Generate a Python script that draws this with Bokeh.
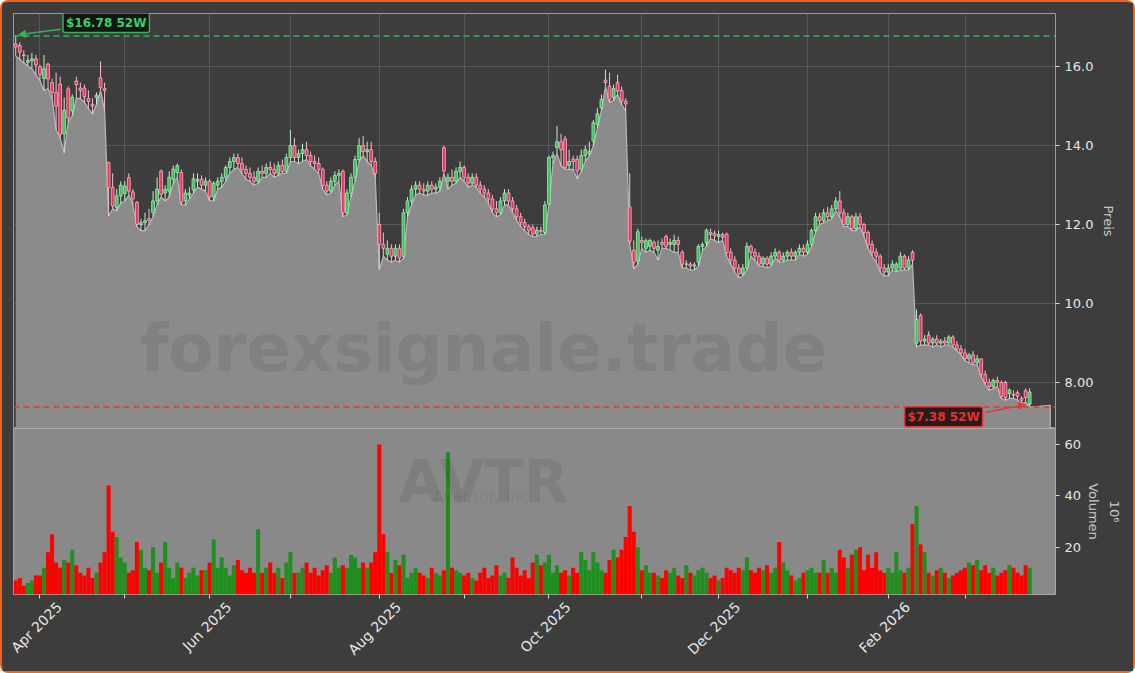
import math
from bokeh.plotting import figure
from bokeh.models import (Range1d, FixedTicker, Span, Label, Arrow, NormalHead,
                          ColumnDataSource, LinearAxis)
from bokeh.layouts import column
from bokeh.embed import file_html
from bokeh.resources import INLINE

# ---------------- data ----------------
opens = [16.58,16.54,16.30,16.11,16.15,16.20,16.00,15.70,16.07,15.60,
         15.35,15.56,14.30,15.44,14.88,15.64,15.46,15.46,15.20,15.05,
         15.22,15.72,15.45,13.57,12.94,12.43,12.73,12.79,13.19,12.83,
         12.56,12.00,12.05,12.15,12.30,12.60,13.36,12.80,12.85,13.15,
         13.32,13.32,12.60,12.75,12.88,13.10,13.15,13.00,13.10,12.70,
         13.00,13.10,13.20,13.45,13.60,13.70,13.55,13.40,13.30,13.20,
         13.10,13.35,13.30,13.45,13.40,13.30,13.50,13.35,13.70,14.00,
         13.70,13.80,13.90,13.75,13.60,13.55,13.40,13.00,12.85,13.10,
         13.25,13.35,12.30,12.80,13.20,13.65,14.00,13.85,13.90,13.60,
         12.00,11.50,11.25,11.40,11.20,11.40,11.20,12.30,12.60,12.90,
         13.00,12.90,12.85,13.00,12.90,12.95,13.95,13.10,13.20,13.10,
         13.35,13.45,13.20,13.05,13.20,13.00,12.90,12.80,12.65,12.40,
         12.30,12.60,12.80,12.60,12.40,12.20,12.05,11.95,11.92,11.76,
         11.85,11.80,12.52,13.70,13.95,14.10,14.17,13.50,13.66,13.66,
         13.40,13.75,13.80,14.12,14.54,14.96,15.66,15.51,15.22,15.60,
         15.40,15.13,12.45,11.35,11.08,11.60,11.40,11.45,11.55,11.35,
         11.55,11.70,11.50,11.50,11.60,11.30,11.00,11.00,10.95,11.05,
         11.45,11.54,11.80,11.78,11.70,11.75,11.76,11.30,11.10,10.90,
         10.75,10.90,11.45,11.30,11.20,11.00,11.15,11.00,11.20,11.30,
         11.10,11.20,11.30,11.20,11.30,11.40,11.30,11.50,11.85,12.20,
         12.10,12.30,12.20,12.40,12.60,12.30,12.00,12.20,11.90,12.20,
         12.00,11.80,11.50,11.30,11.20,10.90,10.80,10.90,10.85,10.90,
         11.20,10.90,11.30,9.00,9.70,9.05,9.20,9.00,9.10,9.00,
         9.05,9.00,9.15,8.95,8.85,8.75,8.60,8.70,8.50,8.60,
         8.20,8.00,7.90,8.05,8.00,8.00,7.72,7.70,7.74,7.60,
         7.79,7.45]
highs = [16.80,16.62,16.42,16.30,16.35,16.30,16.05,16.30,16.10,15.70,
         15.85,15.75,15.22,15.50,15.30,15.75,15.60,15.55,15.40,15.20,
         15.35,16.14,15.60,13.60,13.30,12.90,13.10,13.10,13.30,12.90,
         12.60,12.15,12.30,12.40,12.85,13.20,13.40,13.00,13.35,13.50,
         13.55,13.40,12.90,12.95,13.30,13.30,13.25,13.20,13.15,13.10,
         13.20,13.30,13.50,13.70,13.80,13.80,13.70,13.50,13.45,13.35,
         13.45,13.50,13.55,13.60,13.55,13.60,13.65,13.80,14.40,14.20,
         13.90,14.05,14.10,13.85,13.75,13.70,13.45,13.10,13.20,13.35,
         13.40,13.40,12.90,13.30,13.75,14.20,14.25,14.10,14.10,13.70,
         12.30,11.80,11.60,11.50,11.50,11.50,12.40,12.70,13.00,13.10,
         13.10,13.05,13.10,13.10,13.05,13.20,14.00,13.30,13.40,13.45,
         13.60,13.50,13.30,13.30,13.30,13.10,13.00,12.90,12.75,12.60,
         12.70,12.90,12.90,12.70,12.50,12.30,12.15,12.00,12.00,11.95,
         11.95,12.60,13.75,13.85,14.50,14.30,14.25,13.90,13.75,13.75,
         13.90,14.00,14.10,14.65,14.95,15.30,15.93,15.85,15.55,15.80,
         15.50,15.20,13.30,11.60,11.90,11.70,11.65,11.65,11.60,11.60,
         11.65,11.75,11.65,11.75,11.70,11.35,11.10,11.05,11.05,11.50,
         11.55,11.90,11.90,11.85,11.85,11.80,11.80,11.40,11.20,11.00,
         11.00,11.55,11.50,11.40,11.30,11.20,11.20,11.30,11.40,11.35,
         11.30,11.35,11.40,11.35,11.50,11.50,11.60,11.90,12.30,12.30,
         12.40,12.45,12.50,12.70,12.85,12.40,12.30,12.25,12.30,12.30,
         12.05,11.85,11.60,11.40,11.25,11.00,11.00,11.10,11.05,11.30,
         11.25,11.20,11.35,9.85,9.75,9.20,9.30,9.15,9.20,9.10,
         9.15,9.20,9.20,9.05,8.95,8.85,8.75,8.80,8.70,8.60,
         8.30,8.10,8.10,8.15,8.05,8.05,7.85,7.80,7.80,7.65,
         7.85,7.85]
lows = [16.27,16.19,16.10,16.02,15.95,15.80,15.65,15.40,15.45,15.20,
        14.40,14.20,13.82,14.60,14.75,15.20,15.20,15.10,14.95,14.80,
        15.05,15.40,14.90,12.22,12.40,12.35,12.55,12.60,12.75,12.50,
        11.95,11.85,11.85,12.00,12.20,12.50,12.70,12.60,12.70,13.05,
        13.20,12.50,12.50,12.65,12.80,12.95,12.90,12.85,12.60,12.60,
        12.90,12.95,13.10,13.30,13.40,13.45,13.30,13.15,13.10,13.00,
        13.05,13.20,13.20,13.30,13.20,13.25,13.30,13.30,13.60,13.60,
        13.55,13.60,13.65,13.50,13.40,13.30,12.90,12.75,12.80,13.00,
        13.10,12.20,12.25,12.70,13.10,13.60,13.75,13.60,13.50,13.20,
        10.85,11.20,11.10,11.05,11.10,11.05,11.15,12.20,12.50,12.75,
        12.80,12.75,12.75,12.80,12.80,12.85,13.30,12.90,13.00,13.05,
        13.20,13.10,12.95,13.00,12.95,12.80,12.70,12.55,12.30,12.20,
        12.25,12.50,12.50,12.30,12.10,11.95,11.85,11.75,11.70,11.70,
        11.75,11.75,12.50,13.55,13.80,13.50,13.40,13.40,13.40,13.16,
        13.35,13.60,13.75,14.00,14.45,14.90,15.50,15.10,15.15,15.30,
        15.05,14.88,11.50,10.88,11.00,11.40,11.30,11.35,11.30,11.10,
        11.40,11.40,11.35,11.30,11.30,10.90,10.90,10.85,10.85,10.95,
        11.35,11.45,11.65,11.60,11.55,11.60,11.20,11.00,10.80,10.65,
        10.70,10.85,11.20,11.10,10.95,10.95,10.90,10.95,11.15,11.05,
        11.05,11.10,11.10,11.10,11.25,11.20,11.25,11.45,11.80,12.00,
        12.05,12.10,12.15,12.35,12.20,11.95,11.95,11.85,11.85,11.95,
        11.70,11.40,11.20,11.05,10.80,10.70,10.70,10.85,10.80,10.85,
        10.85,10.85,11.00,8.90,8.95,8.95,8.95,8.90,8.95,8.90,
        8.95,8.95,8.90,8.80,8.70,8.55,8.50,8.45,8.45,8.15,
        7.95,7.80,7.85,7.90,7.60,7.55,7.60,7.60,7.55,7.47,
        7.50,7.38]
closes = [16.50,16.37,16.28,16.16,16.20,16.05,15.80,15.95,15.69,15.35,
          15.00,14.29,14.90,14.70,15.23,15.55,15.40,15.24,15.12,15.00,
          15.28,15.47,15.40,12.94,12.47,12.73,13.00,12.98,12.85,12.65,
          12.01,12.05,12.10,12.10,12.60,12.90,12.77,12.90,13.20,13.41,
          13.49,12.56,12.80,12.80,13.16,13.15,13.00,13.10,12.70,13.05,
          13.10,13.20,13.45,13.60,13.70,13.55,13.40,13.30,13.20,13.10,
          13.35,13.30,13.45,13.40,13.30,13.50,13.35,13.70,14.00,13.70,
          13.80,13.90,13.75,13.60,13.55,13.40,13.00,12.85,13.10,13.25,
          13.30,12.30,12.80,13.20,13.65,14.00,13.85,13.90,13.60,13.30,
          11.50,11.40,11.40,11.20,11.40,11.15,12.30,12.60,12.90,13.00,
          12.90,12.85,13.00,12.90,12.95,13.10,13.36,13.20,13.10,13.35,
          13.45,13.20,13.05,13.20,13.00,12.90,12.80,12.65,12.40,12.30,
          12.60,12.80,12.60,12.40,12.20,12.05,11.95,11.85,11.76,11.86,
          11.83,12.50,13.70,13.75,14.10,13.90,13.44,13.60,13.60,13.36,
          13.75,13.90,13.85,14.58,14.81,15.17,15.60,15.17,15.45,15.38,
          15.13,15.06,11.58,11.04,11.82,11.55,11.59,11.60,11.40,11.45,
          11.50,11.45,11.55,11.60,11.50,11.00,11.00,10.95,10.98,11.45,
          11.50,11.86,11.75,11.72,11.75,11.68,11.29,11.10,10.90,10.75,
          10.90,11.45,11.30,11.20,11.00,11.15,11.00,11.20,11.30,11.10,
          11.20,11.30,11.20,11.30,11.40,11.30,11.50,11.85,12.20,12.10,
          12.30,12.20,12.40,12.60,12.30,12.00,12.20,11.90,12.20,12.00,
          11.80,11.50,11.30,11.20,10.90,10.80,10.90,11.00,11.00,11.20,
          10.90,11.10,11.10,9.60,9.05,9.10,9.00,9.10,9.00,9.05,
          9.00,9.15,8.95,8.85,8.75,8.60,8.70,8.50,8.60,8.20,
          8.00,7.90,8.05,8.00,7.65,7.62,7.81,7.68,7.65,7.55,
          7.62,7.76]
volumes = [7,8,5,6,7,9,9,12,18,25,
           14,12,15,14,19,13,10,9,12,8,
           10,14,18,44,26,24,16,14,10,11,
           22,19,12,11,20,10,14,22,12,8,
           14,12,8,10,12,9,11,11,14,23,
           12,16,12,9,13,15,11,10,12,10,
           27,10,12,14,10,12,8,14,18,10,
           10,12,14,10,12,9,11,13,10,16,
           12,13,12,17,16,12,14,12,14,18,
           60,25,18,10,15,13,17,8,10,12,
           10,9,8,12,10,9,11,57,12,11,
           10,9,10,8,7,10,12,8,9,13,
           9,10,8,16,12,9,11,8,14,17,
           13,14,17,10,13,10,11,9,12,10,
           18,15,11,18,14,11,10,15,19,16,
           19,24,36,26,20,11,13,10,10,9,
           8,11,10,12,9,8,13,10,9,11,
           12,10,8,9,7,8,12,11,10,12,
           11,16,11,10,12,11,13,10,12,22,
           14,11,9,7,8,10,11,12,10,10,
           15,10,12,10,19,16,12,17,19,20,
           11,17,12,18,11,10,12,10,18,11,
           10,12,29,36,21,18,10,9,11,12,
           10,8,9,10,11,12,14,13,15,11,
           13,10,12,9,10,11,13,12,10,9,
           13,12]

month_ticks = [6, 27, 48, 68, 90, 111, 132, 155, 174, 196, 216, 235]
month_labels = ["Apr 2025", "", "Jun 2025", "", "Aug 2025", "", "Oct 2025", "",
                "Dec 2025", "", "Feb 2026", ""]
price_ticks = [8, 10, 12, 14, 16]
price_tick_labels = ["8.00", "10.0", "12.0", "14.0", "16.0"]
vol_ticks = [20, 40, 60]
high_52w = 16.78
low_52w = 7.38
ticker_symbol = "AVTR"
company = "Avantor, Inc."
watermark = "forexsignale.trade"

# ---------------- derived ----------------
n = len(closes)
idx = list(range(n))
up = [c >= o for o, c in zip(opens, closes)]
BG = "#3d3d3d"
FONT = "DejaVu Sans"
TXT = "#e6e6e6"

src = ColumnDataSource(dict(
    x=idx, o=opens, h=highs, l=lows, c=closes, v=volumes,
    top=[max(o, c) for o, c in zip(opens, closes)],
    bot=[min(o, c) for o, c in zip(opens, closes)],
    fill=["#3fbf5a" if u else "#e8335f" for u in up],
    edge=["#a6f0b4" if u else "#ffb3c4" for u in up],
    wick=["#c6ead0" if u else "#f3c2cf" for u in up],
    vcol=["#1f8f1f" if u else "#ff0000" for u in up],
))

x_range = Range1d(-0.55, 257.4)

p1 = figure(width=1131, height=426, x_range=x_range, y_range=Range1d(6.835, 17.35),
            y_axis_location="right", x_axis_location=None,
            output_backend="svg", toolbar_location=None,
            min_border_left=11, min_border_right=78, min_border_top=11, min_border_bottom=0,
            background_fill_color=BG, border_fill_color=BG,
            outline_line_color="#9c9c9c", outline_line_width=1)
for g in p1.xgrid:
    g.ticker = FixedTicker(ticks=month_ticks)
    g.grid_line_color = "#585858"
    g.level = "underlay"
p1.ygrid.grid_line_color = "#585858"
p1.yaxis.ticker = FixedTicker(ticks=price_ticks)
p1.yaxis.major_label_overrides = {t: s for t, s in zip(price_ticks, price_tick_labels)}
p1.yaxis.axis_label = "Preis"

# area under the lows
xa = idx + [256.1]
ya = lows + [7.42]
p1.varea(x=xa, y1=ya, y2=0, fill_color="#8b8b8b")
p1.line(x=xa + [256.1], y=ya + [0], line_color="#b8b8b8", line_width=1.2)

# candles
p1.segment(x0="x", y0="l", x1="x", y1="h", line_color="wick", line_width=1, source=src)
p1.vbar(x="x", width=0.7, top="top", bottom="bot", fill_color="fill",
        line_color="edge", line_width=0.8, source=src)

p1.add_layout(Label(x=115.8, y=8.853, text=watermark, text_font=FONT, text_font_size="66px",
                    text_font_style="bold", text_color="black", text_alpha=0.08,
                    text_align="center", text_baseline="alphabetic"))

GREEN = "#33b25c"
RED = "#e03a3a"
p1.add_layout(Span(location=high_52w, dimension="width", line_color=GREEN,
                   line_dash="6 4", line_width=1.5))
p1.add_layout(Span(location=low_52w, dimension="width", line_color=RED,
                   line_dash="6 4", line_width=1.5))
p1.add_layout(Arrow(end=NormalHead(size=7, fill_color=GREEN, line_color=GREEN),
                    x_start=11.1, y_start=16.95, x_end=0.7, y_end=16.81,
                    line_color=GREEN, line_width=1.5))
p1.add_layout(Arrow(end=NormalHead(size=7, fill_color=RED, line_color=RED),
                    x_start=240.0, y_start=7.24, x_end=250.0, y_end=7.44,
                    line_color=RED, line_width=1.5))
p1.add_layout(Label(x=22.4, y=17.12, text="$%.2f 52W" % high_52w, text_font=FONT,
                    text_font_size="12px", text_font_style="bold", text_color="#3ad06a",
                    text_align="center", text_baseline="middle",
                    background_fill_color="#0c120d", background_fill_alpha=0.9,
                    border_line_color=GREEN, border_line_width=1.5, padding=3, border_radius=2))
p1.add_layout(Label(x=229.7, y=7.13, text="$%.2f 52W" % low_52w, text_font=FONT,
                    text_font_size="12px", text_font_style="bold", text_color="#e8302a",
                    text_align="center", text_baseline="middle",
                    background_fill_color="#1c1010", background_fill_alpha=0.9,
                    border_line_color=RED, border_line_width=1.5, padding=3, border_radius=2))

# ---------------- volume panel ----------------
p2 = figure(width=1131, height=243, x_range=x_range, y_range=Range1d(1.57, 66.2),
            y_axis_location="right", output_backend="svg", toolbar_location=None,
            min_border_left=11, min_border_right=78, min_border_top=0, min_border_bottom=77,
            background_fill_color="#898989", border_fill_color=BG,
            outline_line_color="#a8a8a8", outline_line_width=1)
p2.xgrid.grid_line_color = None
p2.ygrid.grid_line_color = None
p2.vbar(x="x", width=1.0, top="v", bottom=0, fill_color="vcol", line_color=None, source=src)
p2.yaxis.ticker = FixedTicker(ticks=vol_ticks)
p2.yaxis.axis_label = "Volumen"

p2.add_layout(Label(x=115.8, y=45.3, text=ticker_symbol, text_font=FONT, text_font_size="58px",
                    text_font_style="bold", text_color="black", text_alpha=0.08,
                    text_align="center", text_baseline="alphabetic"))
p2.add_layout(Label(x=115.8, y=39.6, text=company, text_font=FONT, text_font_size="16px",
                    text_color="black", text_alpha=0.08,
                    text_align="center", text_baseline="alphabetic"))

for p in (p1, p2):
    for ax in p.axis:
        ax.axis_line_color = None
        ax.major_tick_line_color = "#d8d8d8"
        ax.major_tick_out = 4
        ax.major_tick_in = 0
        ax.minor_tick_line_color = None
        ax.major_label_text_color = TXT
        ax.major_label_text_font = FONT
        ax.major_label_text_font_size = "13px"
        ax.major_label_standoff = 5
        ax.axis_label_text_color = "#c8c8c8"
        ax.axis_label_text_font = FONT
        ax.axis_label_text_font_size = "13px"
        ax.axis_label_text_font_style = "normal"
        ax.axis_label_standoff = 2
p1.yaxis.axis_label_standoff = 5

# x axis: tick marks at the month starts ...
p2.xaxis.ticker = FixedTicker(ticks=month_ticks)
p2.xaxis.major_label_overrides = {t: "" for t in month_ticks}
p2.xaxis.major_label_text_font_size = "0px"
p2.xaxis.major_label_standoff = 0
# ... and a label-only axis so that the rotated labels sit centred under their ticks
LABEL_SHIFT = 4.75
lab_ticks = [t + LABEL_SHIFT for t in month_ticks]
lab_axis = LinearAxis(ticker=FixedTicker(ticks=lab_ticks),
                      major_label_overrides={t: s for t, s in zip(lab_ticks, month_labels)},
                      major_label_orientation=math.pi / 4,
                      axis_line_color=None, major_tick_line_color=None,
                      minor_tick_line_color=None, major_tick_out=0, major_tick_in=0,
                      major_label_standoff=6, major_label_text_color=TXT,
                      major_label_text_font=FONT, major_label_text_font_size="14px")
p2.add_layout(lab_axis, "below")

# offset text of the volume axis (x 10^6)
exp_axis = LinearAxis(ticker=FixedTicker(ticks=[]), axis_label="10\u2076",
                      axis_line_color=None, major_tick_line_color=None,
                      minor_tick_line_color=None, major_label_text_font_size="0px",
                      major_tick_out=0, major_label_standoff=0, axis_label_standoff=2,
                      axis_label_text_color="#c8c8c8", axis_label_text_font=FONT,
                      axis_label_text_font_size="13px", axis_label_text_font_style="normal")
p2.add_layout(exp_axis, "right")

layout = column(p1, p2, spacing=0,
                styles={"border": "2px solid #f26419", "border-radius": "8px",
                        "background-color": BG})

open("out.html", "w").write(file_html(layout, INLINE))
